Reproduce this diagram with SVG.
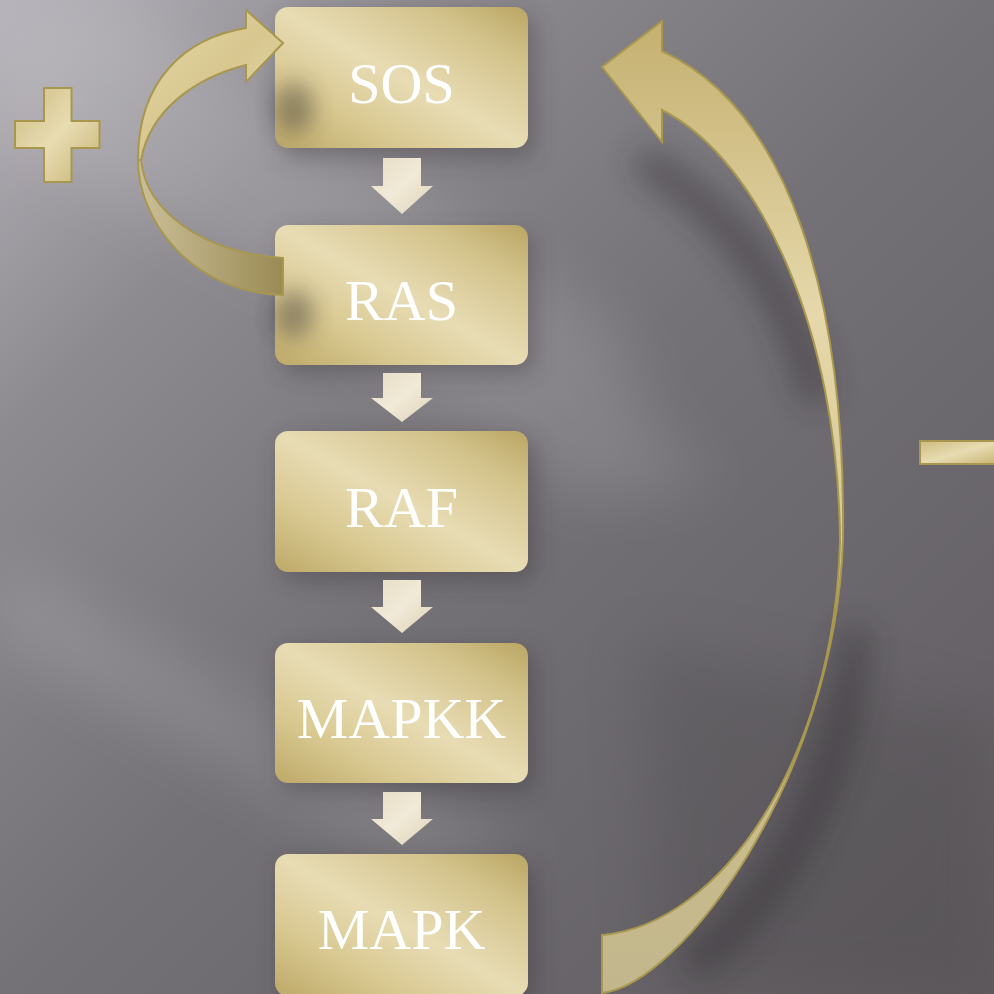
<svg xmlns="http://www.w3.org/2000/svg" width="994" height="994" viewBox="0 0 994 994">
<defs>
<linearGradient id="bg" x1="0" y1="0" x2="1" y2="1">
<stop offset="0" stop-color="#b5b3b9"/>
<stop offset="0.22" stop-color="#8d8a90"/>
<stop offset="0.5" stop-color="#747177"/>
<stop offset="1" stop-color="#5f5b5f"/>
</linearGradient>
<linearGradient id="gold" x1="1" y1="0" x2="0" y2="1">
<stop offset="0" stop-color="#baa663"/>
<stop offset="0.2" stop-color="#d2c28a"/>
<stop offset="0.5" stop-color="#e8dcb4"/>
<stop offset="0.75" stop-color="#d8c890"/>
<stop offset="1" stop-color="#bda968"/>
</linearGradient>
<linearGradient id="goldH" x1="0" y1="0" x2="1" y2="1">
<stop offset="0" stop-color="#cdbb7f"/>
<stop offset="0.5" stop-color="#e8dcb2"/>
<stop offset="1" stop-color="#c6b272"/>
</linearGradient>
<linearGradient id="arrUp" x1="0" y1="0" x2="1" y2="1">
<stop offset="0" stop-color="#e4d6a6"/>
<stop offset="0.5" stop-color="#d8c78f"/>
<stop offset="1" stop-color="#e6d9ae"/>
</linearGradient>
<linearGradient id="arrLow" x1="0" y1="0" x2="1" y2="0">
<stop offset="0" stop-color="#cbbf98"/>
<stop offset="1" stop-color="#9a8b55"/>
</linearGradient>
<linearGradient id="arrR" x1="0" y1="0" x2="0" y2="1">
<stop offset="0" stop-color="#c4b070"/>
<stop offset="0.3" stop-color="#e6d8ab"/>
<stop offset="0.6" stop-color="#d2c48c"/>
<stop offset="1" stop-color="#c2b68d"/>
</linearGradient>
<linearGradient id="cream" x1="0" y1="0" x2="1" y2="1">
<stop offset="0" stop-color="#e6ddc4"/>
<stop offset="0.5" stop-color="#f1ead8"/>
<stop offset="1" stop-color="#ddd2b4"/>
</linearGradient>
<filter id="blur" x="-50%" y="-50%" width="200%" height="200%"><feGaussianBlur stdDeviation="12"/></filter>
<filter id="blurM" x="-50%" y="-50%" width="200%" height="200%"><feGaussianBlur stdDeviation="16"/></filter>
<filter id="blurS" x="-50%" y="-50%" width="200%" height="200%"><feGaussianBlur stdDeviation="11"/></filter>
<filter id="blurBig" x="-50%" y="-50%" width="200%" height="200%"><feGaussianBlur stdDeviation="30"/></filter>
</defs>
<style>
.box{fill:url(#gold);}
.shadow{fill:#2e2a2e;opacity:0.35;filter:url(#blur);}
.lbl{font-family:"Liberation Serif","Times New Roman",serif;font-size:58px;fill:#ffffff;text-anchor:middle;}
.down{fill:url(#cream);}
.edge{stroke:#a8974f;stroke-width:2;stroke-linejoin:miter;}
</style>

<!-- background -->
<rect x="0" y="0" width="994" height="994" fill="url(#bg)"/>
<g opacity="0.12" filter="url(#blurBig)">
<polygon points="0,20 120,0 620,330 660,460 0,140" fill="#ffffff"/>
<polygon points="0,560 0,640 420,880 540,860" fill="#ffffff"/>
<polygon points="330,330 560,370 720,480 580,500" fill="#ffffff"/>
</g>
<g opacity="0.2" filter="url(#blurBig)">
<polygon points="640,640 994,720 994,994 660,994" fill="#3e3a3e"/>
</g>

<!-- node shadows -->
<g id="shadows">
<rect class="shadow" x="282" y="16" width="252" height="141" rx="13"/>
<rect class="shadow" x="282" y="233" width="252" height="140" rx="13"/>
<rect class="shadow" x="282" y="439" width="252" height="141" rx="13"/>
<rect class="shadow" x="282" y="651" width="252" height="140" rx="13"/>
<rect class="shadow" x="282" y="862" width="252" height="140" rx="13"/>
</g>

<!-- nodes -->
<g id="node-sos"><rect class="box" x="275" y="7" width="253" height="141" rx="13"/><text class="lbl" x="401.5" y="103">SOS</text></g>
<g id="node-ras"><rect class="box" x="275" y="225" width="253" height="140" rx="13"/><text class="lbl" x="401.5" y="320">RAS</text></g>
<g id="node-raf"><rect class="box" x="275" y="431" width="253" height="141" rx="13"/><text class="lbl" x="401.5" y="527">RAF</text></g>
<g id="node-mapkk"><rect class="box" x="275" y="643" width="253" height="140" rx="13"/><text class="lbl" x="401.5" y="738">MAPKK</text></g>
<g id="node-mapk"><rect class="box" x="275" y="854" width="253" height="142" rx="13"/><text class="lbl" x="401.5" y="949">MAPK</text></g>

<!-- connectors -->
<g id="connectors">
<!-- straight down arrows -->
<polygon class="down" points="383,158 421,158 421,186 433,186 402,214 371,186 383,186"/>
<polygon class="down" points="383,373 421,373 421,398 433,398 402,422 371,398 383,398"/>
<polygon class="down" points="383,580 421,580 421,607 433,607 402,633 371,607 383,607"/>
<polygon class="down" points="383,792 421,792 421,819 433,819 402,845 371,819 383,819"/>

<!-- shadows of curved arrows -->
<g fill="#2a262a" opacity="0.4" filter="url(#blurS)">
<ellipse cx="294" cy="108" rx="20" ry="26"/>
<ellipse cx="294" cy="314" rx="20" ry="24"/>
</g>
<g fill="none" stroke="#2a262a" stroke-linecap="round" opacity="0.45" filter="url(#blurM)">
<path d="M650,165 C715,205 785,275 815,390" stroke-width="30"/>
<path d="M855,640 C845,760 800,880 700,960" stroke-width="28"/>
</g>

<!-- positive feedback curved arrow: lower (back) band -->
<path class="edge" d="M138,160 C138,220 190,292 283,295 L283,258 C200,252 146,210 141,160 Z" fill="url(#arrLow)"/>
<!-- upper (front) band with head -->
<path class="edge" d="M138,160 C138,80 185,38 246,28 L246,10 L283,43 L246,82 L246,65 C195,78 150,110 141,160 Z" fill="url(#arrUp)"/>

<!-- negative feedback curved arrow -->
<path class="edge" d="M602,993 C680,985 835,780 843,540 C846,300 790,110 662,51 L662,21 L602,67 L662,142 L662,110 C760,160 838,330 840,540 C835,760 720,925 602,935 Z" fill="url(#arrR)"/>
</g>

<!-- plus sign -->
<g id="plus">
<path class="edge" d="M44,88 L71.5,88 L71.5,121 L99.5,121 L99.5,148 L71.5,148 L71.5,182 L44,182 L44,148 L15,148 L15,121 L44,121 Z" fill="url(#goldH)"/>
</g>

<!-- minus sign -->
<g id="minus">
<rect class="edge" x="920" y="441" width="80" height="23" fill="url(#goldH)"/>
</g>
</svg>
